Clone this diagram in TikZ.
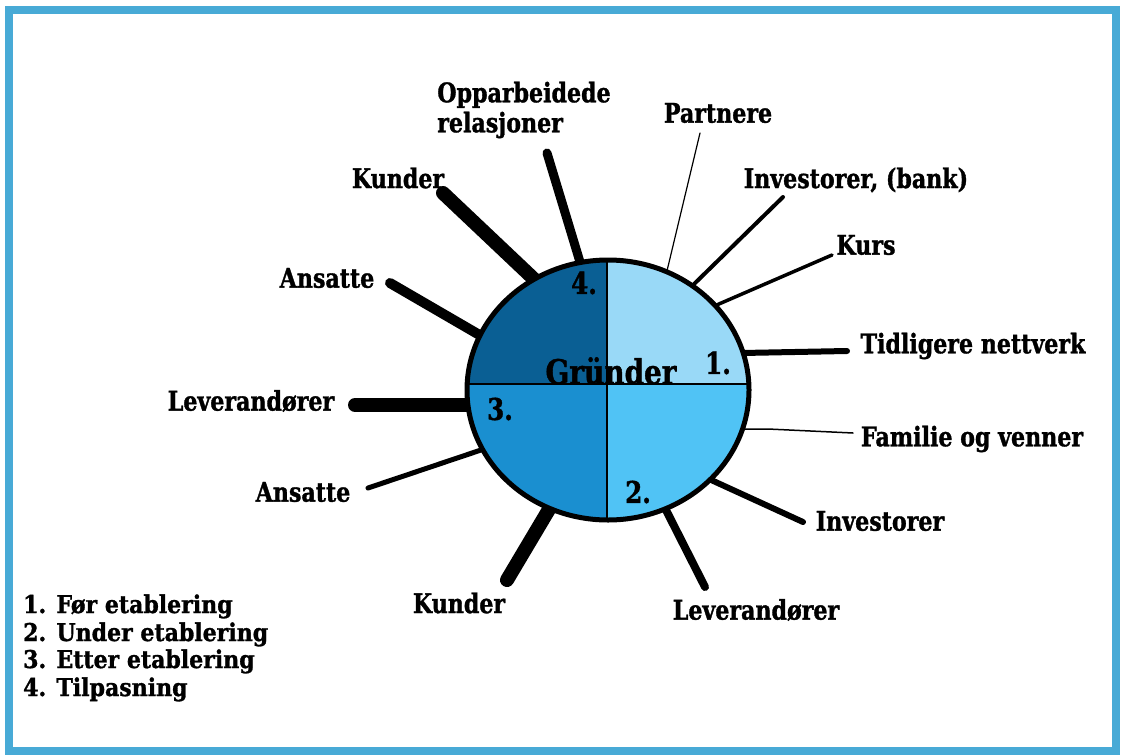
\documentclass[tikz,border=0pt]{standalone}
\usepackage{fontspec}
\setmainfont{DejaVu Serif}
\newfontfamily\labfont[FakeStretch=0.82, BoldFeatures={FakeBold=1.2}]{DejaVu Serif}
\newfontfamily\legfont[FakeStretch=0.9, BoldFeatures={FakeBold=1.2}]{DejaVu Serif}
\usetikzlibrary{shapes.geometric}
\definecolor{frameblue}{RGB}{72,170,214}
\definecolor{qone}{RGB}{153,217,247}
\definecolor{qtwo}{RGB}{80,195,245}
\definecolor{qthree}{RGB}{26,143,208}
\definecolor{qfour}{RGB}{10,95,148}
\begin{document}
\begin{tikzpicture}[x=1pt,y=-1pt,
  lbl/.style={font=\labfont\fontsize{27}{30}\selectfont\bfseries, inner sep=0pt},
  leg/.style={font=\legfont\fontsize{24.5}{28}\selectfont\bfseries, inner sep=0pt, anchor=base west},
  num/.style={font=\labfont\fontsize{30}{30}\selectfont\bfseries, inner sep=0pt},
  spoke/.style={draw=black, line cap=round}]
\useasboundingbox (0,0) rectangle (1121,755);
\fill[white] (0,0) rectangle (1121,755);
\draw[frameblue, line width=8pt] (8.5,9.5) rectangle (1116,751);

% labels
\node[lbl, align=left] (opp) at (524,110) {Opparbeidede\\relasjoner};
\node[lbl] (partn) at (718,113) {Partnere};
\node[lbl] (kundT) at (398,178) {Kunder};
\node[lbl] (invB) at (856,180) {Investorer, (bank)};
\node[lbl] (kurs) at (866,245) {Kurs};
\node[lbl] (ansT) at (327,278) {Ansatte};
\node[lbl] (tidl) at (973,346) {Tidligere nettverk};
\node[lbl] (levL) at (251,401) {Leverandører};
\node[lbl] (fam) at (972,439) {Familie og venner};
\node[lbl] (ansB) at (303,492) {Ansatte};
\node[lbl] (inv) at (880,521) {Investorer};
\node[lbl] (kundB) at (459,603) {Kunder};
\node[lbl] (levR) at (756,610) {Leverandører};

% legend
\node[leg] (l1) at (23,613) {1. Før etablering};
\node[leg] (l2) at (23,641) {2. Under etablering};
\node[leg] (l3) at (23,668) {3. Etter etablering};
\node[leg] (l4) at (23,696) {4. Tilpasning};

% spoke end points
\coordinate (oppA) at (580,262);  \coordinate (oppB) at (547,153);
\coordinate (kuTA) at (536,281);  \coordinate (kuTB) at (443,193);
\coordinate (paA) at (666,275);   \coordinate (paB) at (700,133);
\coordinate (ibA) at (690,288);   \coordinate (ibB) at (783,197);
\coordinate (kuA) at (712,307);   \coordinate (kuB) at (832,255);
\coordinate (tiA) at (742,353);   \coordinate (tiB) at (847,351);
\coordinate (faA) at (742,429);   \coordinate (faM) at (768,429);   \coordinate (faB) at (853,433);
\coordinate (inA) at (709,479);   \coordinate (inB) at (803,522);
\coordinate (lrA) at (666,510);   \coordinate (lrB) at (705,587);
\coordinate (kbA) at (551,506);   \coordinate (kbB) at (507,580);
\coordinate (abA) at (481,450);   \coordinate (abB) at (368,488);
\coordinate (llA) at (472,405);   \coordinate (llB) at (355,405);
\coordinate (atA) at (483,337);   \coordinate (atB) at (390,283);

% spokes
\draw[spoke, line width=9pt] (oppA) -- (oppB);
\draw[spoke, line width=14pt] (kuTA) -- (kuTB);
\draw[spoke, line width=1.2pt] (paA) -- (paB);
\draw[spoke, line width=4pt] (ibA) -- (ibB);
\draw[spoke, line width=3.5pt] (kuA) -- (kuB);
\draw[spoke, line width=6pt] (tiA) -- (tiB);
\draw[spoke, line width=1.5pt] (faA) -- (faM) -- (faB);
\draw[spoke, line width=6pt] (inA) -- (inB);
\draw[spoke, line width=8pt] (lrA) -- (lrB);
\draw[spoke, line width=14pt] (kbA) -- (kbB);
\draw[spoke, line width=5pt] (abA) -- (abB);
\draw[spoke, line width=14pt] (llA) -- (llB);
\draw[spoke, line width=10pt] (atA) -- (atB);

% circle
\begin{scope}
  \clip (608,390) ellipse [x radius=141pt, y radius=130pt];
  \fill[qone] (607,384) rectangle (760,250);
  \fill[qtwo] (607,384) rectangle (760,530);
  \fill[qthree] (607,384) rectangle (460,530);
  \fill[qfour] (607,384) rectangle (460,250);
  \draw[line width=1.3pt] (460,384) -- (760,384);
  \draw[line width=1.3pt] (607,250) -- (607,530);
\end{scope}
\node[ellipse, draw=black, line width=5pt, minimum width=282pt, minimum height=260pt, inner sep=0pt] (g) at (608,390) {};

\node[font=\labfont\fontsize{34}{34}\selectfont\bfseries, inner sep=0pt, anchor=base] (gr) at (611,384) {Gründer};
\node[num] (n1) at (718,363) {1.};
\node[num] (n2) at (638,492) {2.};
\node[num] (n3) at (500,409) {3.};
\node[num] (n4) at (584,283) {4.};
\end{tikzpicture}
\end{document}
